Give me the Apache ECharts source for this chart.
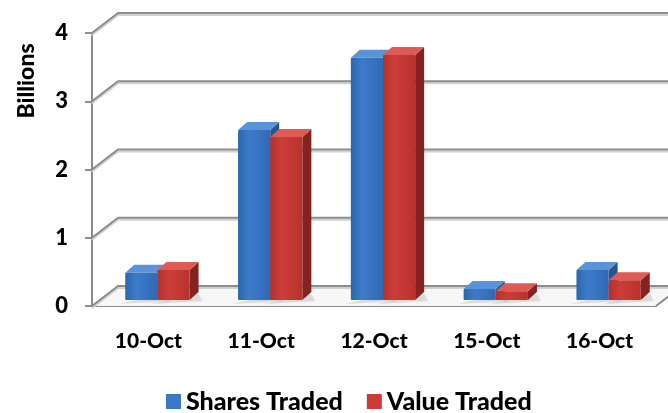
<!DOCTYPE html>
<html>
<head>
<meta charset="utf-8">
<script src="https://cdn.jsdelivr.net/npm/echarts@6/dist/echarts.min.js"></script>
<style>
  html, body { margin: 0; padding: 0; background: #fff; }
  #main { width: 668px; height: 413px; }
</style>
</head>
<body>
<div id="main"></div>
<script>
const categories = ['10-Oct', '11-Oct', '12-Oct', '15-Oct', '16-Oct'];
const sharesTraded = [0.40, 2.49, 3.55, 0.16, 0.44];
const valueTraded = [0.44, 2.39, 3.59, 0.13, 0.29];
const yTicks = [0, 1, 2, 3, 4];

const chart = echarts.init(document.getElementById('main'));

// fake 3D: back wall offset, bar plane offset, bar depth
const WALL_DX = 26, WALL_DY = -20;
const PLANE_DX = 9, PLANE_DY = -6;
const BAR_DX = 9, BAR_DY = -8;

const palette = [
  { front: ['#2c65ad', '#3d7ccb', '#2f69b3'], top: '#5b93d9', side: '#27558f' },
  { front: ['#b3302c', '#cc3d38', '#b8322e'], top: '#de5a55', side: '#842320' }
];

function wallItem(params, api) {
  const v = api.value(0);
  const cs = params.coordSys;
  const y = api.coord([0, v])[1];
  const x0 = cs.x, x1 = cs.x + cs.width;
  const children = [];
  if (v === 0) {
    children.push({
      type: 'polygon',
      shape: { points: [[x0, y], [x0 + WALL_DX, y + WALL_DY], [x1 + WALL_DX, y + WALL_DY], [x1, y]] },
      style: { fill: '#f7f7f7' }
    });
    children.push({
      type: 'polyline',
      shape: { points: [[x1, y], [x1 + WALL_DX, y + WALL_DY]] },
      style: { stroke: '#8c8c8c', lineWidth: 2, fill: null }
    });
  }
  children.push({
    type: 'polyline',
    shape: { points: [[x0, y + 2], [x0 + WALL_DX, y + WALL_DY + 2], [x1 + WALL_DX, y + WALL_DY + 2]] },
    style: { stroke: '#d0d0d0', lineWidth: 2, fill: null }
  });
  children.push({
    type: 'polyline',
    shape: { points: [[x0, y], [x0 + WALL_DX, y + WALL_DY], [x1 + WALL_DX, y + WALL_DY]] },
    style: { stroke: '#8c8c8c', lineWidth: 2, fill: null }
  });
  return { type: 'group', children: children };
}

function barItem(params, api) {
  const idx = api.value(0);
  const val = api.value(1);
  const c = api.coord([idx, val]);
  const base = api.coord([idx, 0]);
  const band = api.size([1, 0])[0];
  const bw = band * 0.285;
  const col = palette[params.seriesIndex - 1];
  const left = c[0] + PLANE_DX + (params.seriesIndex === 1 ? -bw : 0);
  const right = left + bw;
  const top = c[1] + PLANE_DY;
  const bottom = base[1] + PLANE_DY;
  return {
    type: 'group',
    children: [
      {
        type: 'polygon',
        shape: { points: [[left + 2, bottom + 2], [right + BAR_DX, bottom + BAR_DY + 2], [right + BAR_DX + 4, bottom + 1], [left - 6, bottom + 4]] },
        style: { fill: 'rgba(0,0,0,0.10)', shadowBlur: 6, shadowColor: 'rgba(0,0,0,0.25)' }
      },
      {
        type: 'polygon',
        shape: { points: [[right, top], [right + BAR_DX, top + BAR_DY], [right + BAR_DX, bottom + BAR_DY], [right, bottom]] },
        style: { fill: col.side }
      },
      {
        type: 'polygon',
        shape: { points: [[left, top], [left + BAR_DX, top + BAR_DY], [right + BAR_DX, top + BAR_DY], [right, top]] },
        style: { fill: col.top }
      },
      {
        type: 'rect',
        shape: { x: left, y: top, width: bw, height: bottom - top, r: 1 },
        style: {
          fill: new echarts.graphic.LinearGradient(0, 0, 1, 0, [
            { offset: 0, color: col.front[0] },
            { offset: 0.35, color: col.front[1] },
            { offset: 1, color: col.front[2] }
          ])
        }
      }
    ]
  };
}

const font = 'Lato, "Open Sans", sans-serif';

const option = {
  animation: false,
  backgroundColor: '#fff',
  grid: { left: 92, right: 12, top: 33, bottom: 107 },
  legend: {
    data: ['Shares Traded', 'Value Traded'],
    left: 161,
    top: 384,
    icon: 'rect',
    itemWidth: 15,
    itemHeight: 15,
    itemGap: 24,
    textStyle: { fontFamily: font, fontWeight: 900, fontSize: 25, color: '#000' }
  },
  graphic: [{
    type: 'text',
    x: 27,
    y: 81,
    rotation: Math.PI / 2,
    style: {
      text: 'Billions',
      font: '900 23px ' + font,
      fill: '#000',
      align: 'center',
      verticalAlign: 'middle'
    }
  }],
  xAxis: {
    type: 'category',
    data: categories,
    axisLine: { lineStyle: { color: '#8c8c8c', width: 2 } },
    axisTick: { length: 9, lineStyle: { color: '#8c8c8c', width: 2 } },
    axisLabel: { margin: 25, fontFamily: font, fontWeight: 900, fontSize: 21, color: '#000' },
    splitLine: { show: false }
  },
  yAxis: {
    type: 'value',
    min: 0,
    max: 4,
    interval: 1,
    axisLine: { show: true, lineStyle: { color: '#8c8c8c', width: 2 } },
    axisTick: { show: true, length: 7, lineStyle: { color: '#8c8c8c', width: 2 } },
    axisLabel: { margin: 24, fontFamily: font, fontWeight: 900, fontSize: 22, color: '#000' },
    splitLine: { show: false }
  },
  series: [
    {
      name: 'wall',
      type: 'custom',
      renderItem: wallItem,
      data: yTicks.map(v => [v]),
      encode: { y: 0 },
      silent: true,
      z: 1
    },
    {
      name: 'Shares Traded',
      type: 'custom',
      renderItem: barItem,
      itemStyle: { color: '#3b78c6' },
      data: sharesTraded.map((v, i) => [i, v]),
      encode: { x: 0, y: 1 },
      z: 3
    },
    {
      name: 'Value Traded',
      type: 'custom',
      renderItem: barItem,
      itemStyle: { color: '#c93b37' },
      data: valueTraded.map((v, i) => [i, v]),
      encode: { x: 0, y: 1 },
      z: 4
    }
  ]
};

chart.setOption(option);
</script>
</body>
</html>
